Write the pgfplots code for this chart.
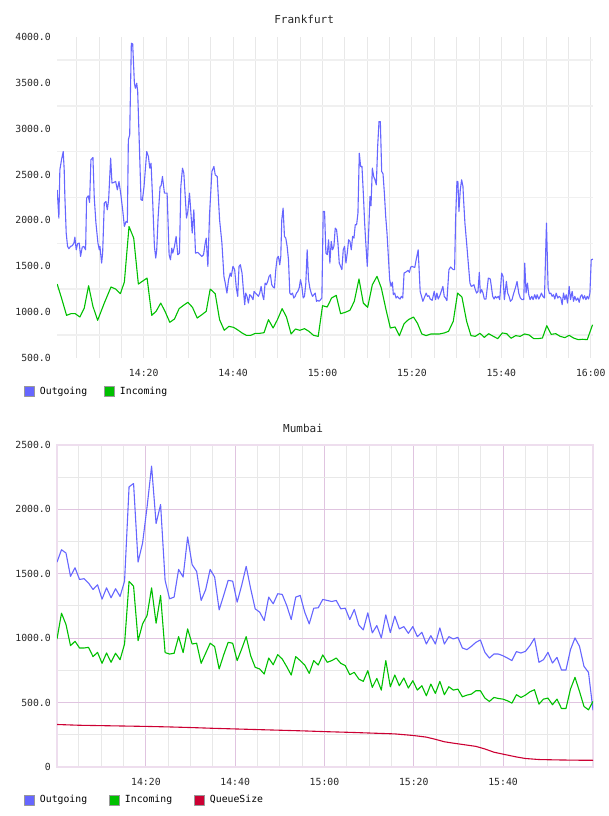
\documentclass[border=0pt]{standalone}
\usepackage{fontspec}
\setmainfont{DejaVu Sans Mono}
\usepackage{pgfplots}
\pgfplotsset{compat=1.18}
\usepackage{pgfplotstable}

\definecolor{outblue}{RGB}{102,102,255}
\definecolor{ingreen}{RGB}{0,192,0}
\definecolor{qred}{RGB}{204,0,51}
\definecolor{gridgray}{RGB}{232,232,232}
\definecolor{gridlight}{RGB}{240,240,240}
\definecolor{gridpurple}{RGB}{224,196,224}
\definecolor{framepink}{RGB}{238,222,238}
\definecolor{ticktext}{RGB}{40,40,40}

% Frankfurt, outgoing messages/s (minutes after 14:00)
\pgfplotstableread{
t v
0.64 2334
1.02 2025
1.24 2552
1.61 2661
1.99 2751
2.21 2552
2.36 2261
2.66 1862
2.96 1717
3.26 1691
3.63 1717
4.01 1724
4.38 1753
4.6 1818
4.9 1680
5.2 1746
5.58 1753
5.87 1608
6.25 1709
6.62 1717
7.0 1680
7.22 2243
7.59 2268
7.89 2196
8.19 2661
8.64 2686
8.94 2243
9.31 1971
9.76 1753
10.06 1680
10.21 1717
10.58 1535
10.81 1644
11.18 2189
11.55 2207
11.85 2116
12.15 2225
12.6 2679
12.9 2407
13.27 2414
13.72 2425
14.1 2334
14.47 2425
14.84 2298
15.29 2116
15.67 1934
16.04 1989
16.34 1978
16.56 2879
16.86 2933
17.23 3932
17.53 3925
17.91 3496
18.13 3441
18.43 3496
18.65 3405
19.4 2225
19.7 2218
20.07 2370
20.67 2751
21.05 2697
21.35 2570
21.64 2624
22.02 2189
22.39 1717
22.69 1590
22.91 1680
23.21 2025
23.66 2370
23.89 2377
24.19 2479
24.63 2298
25.23 2298
25.68 1626
25.98 1571
26.28 1698
26.5 1644
26.88 1717
27.25 1826
27.62 1626
28.0 1644
28.3 2370
28.67 2570
28.97 2516
29.57 2025
29.87 2098
30.24 2298
30.61 2043
30.84 1862
31.21 2116
31.58 1644
32.11 1651
32.63 1626
33.0 1608
33.38 1626
33.75 1753
33.98 1807
34.35 1499
34.72 2061
35.25 2534
35.7 2588
35.99 2497
36.44 2479
36.97 2007
37.49 1753
37.94 1390
38.24 1317
38.61 1208
38.98 1354
39.36 1426
39.58 1390
39.96 1499
40.34 1463
40.72 1263
41.02 1172
41.32 1499
41.61 1517
41.99 1426
42.29 1245
42.59 1081
42.81 1208
43.11 1172
43.41 1099
43.71 1190
44.08 1172
44.45 1136
44.68 1226
44.98 1208
45.35 1190
45.65 1172
45.95 1208
46.26 1281
46.55 1190
46.85 1136
47.15 1317
47.44 1299
47.74 1335
48.04 1390
48.34 1408
48.64 1299
48.94 1274
49.24 1263
49.54 1463
49.84 1590
50.13 1608
50.43 1517
50.66 1608
50.88 2007
51.18 2134
51.48 1826
51.78 1807
52.08 1717
52.38 1571
52.68 1208
52.97 1190
53.27 1208
53.57 1154
53.87 1172
54.17 1208
54.47 1226
54.77 1263
55.07 1354
55.37 1281
55.67 1154
55.96 1172
56.26 1317
56.56 1680
56.86 1354
57.16 1263
57.46 1208
57.76 1172
58.06 1190
58.36 1208
58.65 1118
58.95 1129
59.25 1118
59.55 1136
59.85 1154
60.15 2098
60.45 2098
60.75 1644
61.05 1626
61.35 1789
61.64 1535
61.94 1771
62.24 1680
62.54 1717
62.84 1916
63.14 1898
63.44 1753
63.74 1535
64.04 1499
64.33 1463
64.63 1680
64.93 1717
65.23 1535
65.53 1644
65.83 1789
66.13 1771
66.43 1680
66.73 1826
67.03 1807
67.32 1953
67.62 1953
67.92 2080
68.22 2733
68.52 2588
68.82 2588
69.12 2298
69.42 1971
69.72 1717
70.01 1499
70.31 1862
70.61 2261
70.84 2160
71.14 2570
71.44 2479
71.73 2443
72.03 2388
72.33 2806
72.63 3078
72.93 3078
73.23 2534
73.53 2508
73.83 2298
74.13 2043
74.42 1862
74.72 1608
75.02 1354
75.32 1281
75.62 1328
75.84 1190
76.14 1208
76.44 1154
76.74 1172
77.04 1154
77.34 1143
77.64 1172
77.94 1154
78.24 1426
78.54 1434
78.83 1444
79.13 1455
79.43 1434
79.73 1492
80.04 1499
80.34 1492
80.64 1488
80.94 1571
81.39 1680
81.84 1226
82.14 1172
82.44 1118
82.74 1154
83.18 1208
83.48 1172
83.78 1179
84.08 1143
84.53 1129
84.98 1226
85.28 1136
85.58 1208
85.87 1143
86.17 1172
86.55 1226
86.92 1281
87.22 1172
87.52 1154
87.82 1125
88.27 1463
88.64 1492
89.24 1463
89.54 1463
89.76 2007
90.06 2425
90.28 2425
90.51 2098
90.81 2334
91.11 2443
91.41 2370
91.55 2225
91.85 1971
92.23 1753
92.6 1535
92.97 1317
93.27 1281
93.57 1288
93.87 1299
94.17 1245
94.47 1208
94.77 1226
95.07 1434
95.29 1208
95.59 1245
95.89 1208
96.19 1143
96.56 1143
97.09 1372
97.53 1361
98.06 1172
98.36 1143
98.65 1172
98.95 1154
99.33 1172
99.63 1136
100.07 1426
100.37 1390
100.67 1136
101.12 1335
101.42 1208
101.72 1172
102.02 1118
102.39 1136
102.77 1208
103.14 1263
103.51 1335
103.89 1208
104.26 1154
104.63 1136
105.01 1136
105.23 1535
105.53 1208
105.83 1317
106.13 1190
106.43 1136
106.8 1172
107.1 1136
107.47 1190
107.77 1143
108.0 1190
108.37 1143
108.67 1172
108.97 1208
109.27 1172
109.64 1154
110.09 1971
110.46 1263
110.76 1201
111.06 1208
111.36 1172
111.66 1190
111.96 1143
112.26 1208
112.63 1154
112.93 1172
113.3 1154
113.6 1081
113.9 1208
114.2 1136
114.5 1190
114.8 1099
115.17 1281
115.47 1136
115.84 1226
116.14 1118
116.44 1172
116.74 1129
117.11 1154
117.41 1107
117.71 1172
118.01 1190
118.31 1143
118.61 1179
118.91 1136
119.21 1172
119.51 1143
119.81 1208
120.1 1571
120.48 1578
}\frankout

% Frankfurt, incoming messages/s
\pgfplotstableread{
t v
0.64 1306
1.61 1154
2.74 965
3.71 983
4.68 983
5.72 947
6.7 1045
7.67 1288
8.64 1063
9.69 911
11.18 1099
12.68 1274
13.72 1252
14.77 1201
15.67 1328
16.71 1934
17.76 1807
18.8 1306
20.75 1372
21.79 965
22.77 1009
23.81 1099
24.86 998
25.83 889
26.88 925
27.92 1038
28.89 1074
29.87 1107
30.91 1052
31.96 936
33.0 972
33.98 1009
34.87 1252
35.99 1201
36.97 918
38.01 802
39.06 845
40.1 834
40.94 809
41.99 773
42.96 747
43.93 747
44.98 769
45.95 769
46.92 776
47.9 918
48.94 827
49.91 918
50.96 1038
51.93 947
52.97 762
53.95 816
54.92 802
55.96 820
56.94 791
57.98 747
59.03 736
60.0 1070
61.05 1056
62.02 1154
63.06 1183
64.04 983
65.08 998
66.13 1020
67.1 1118
68.15 1361
69.12 1099
70.09 1052
71.14 1299
72.18 1390
73.15 1263
74.2 1027
75.17 827
76.22 838
77.19 743
78.24 874
79.21 918
80.34 947
81.24 878
82.21 762
83.18 744
84.23 762
85.2 762
86.17 762
87.22 773
88.19 791
89.24 900
90.21 1208
91.18 1165
92.23 900
93.2 744
94.17 736
95.22 769
96.19 725
97.16 765
98.21 736
99.18 711
100.22 773
101.2 765
102.17 715
103.21 744
104.19 736
105.23 762
106.2 751
107.25 711
108.22 711
109.19 718
110.16 852
111.14 758
112.18 765
113.15 736
114.2 722
115.17 747
116.14 718
117.19 700
118.16 704
119.21 700
120.4 863
}\frankin

% Mumbai, one sample per minute (i = sample number)
\pgfplotstableread{
i out in
0 1591 994
1 1687 1194
2 1661 1106
3 1480 942
4 1547 976
5 1456 924
6 1462 924
7 1428 929
8 1378 857
9 1415 890
10 1303 805
11 1391 885
12 1314 813
13 1384 883
14 1324 833
15 1443 955
16 2175 1441
17 2201 1404
18 1591 981
19 1739 1111
20 2020 1176
21 2336 1391
22 1890 1116
23 2038 1332
24 1449 888
25 1306 877
26 1319 883
27 1534 1012
28 1475 888
29 1786 1072
30 1571 955
31 1519 961
32 1293 805
33 1376 883
34 1534 961
35 1475 935
36 1220 761
37 1332 870
38 1449 968
39 1443 961
40 1280 826
41 1410 916
42 1558 1012
43 1384 864
44 1228 774
45 1202 761
46 1137 722
47 1319 846
48 1267 794
49 1345 872
50 1340 839
51 1254 779
52 1145 714
53 1319 857
54 1332 826
55 1202 792
56 1111 727
57 1233 826
58 1236 792
59 1301 870
60 1293 813
61 1285 826
62 1293 846
63 1228 805
64 1233 787
65 1145 717
66 1223 735
67 1103 683
68 1064 665
69 1197 748
70 1041 618
71 1098 688
72 1002 597
73 1181 826
74 1044 623
75 1171 714
76 1072 631
77 1090 691
78 1038 613
79 1090 670
80 1012 597
81 1046 631
82 955 553
83 1020 644
84 955 571
85 1080 665
86 955 561
87 1012 623
88 994 597
89 1007 605
90 924 545
91 911 558
92 937 566
93 968 592
94 986 592
95 890 535
96 846 509
97 877 540
98 877 532
99 864 527
100 846 514
101 826 496
102 896 561
103 885 540
104 898 558
105 942 584
106 999 600
107 813 488
108 833 527
109 890 535
110 807 483
111 851 527
112 753 454
113 753 454
114 911 605
115 1002 696
116 937 587
117 781 470
118 735 444
119 441 509
}\mumbai

% Mumbai, queue size
\pgfplotstableread{
i q
0 330
5 324
10 321
15 318
20 315
25 311
30 306
35 300
40 295
45 290
50 285
55 280
60 274
65 269
70 263
75 257
79 245
82 232
84 215
86 196
88 185
91 170
93 160
95 140
97 115
99 100
102 78
104 66
107 58
111 55
115 53
119 52
}\mumbaiq

\pgfplotsset{
  sqlegend/.style={legend image code/.code={%
      \draw[fill=#1, draw=black!40, line width=0.8pt] (0pt,-5pt) rectangle (10pt,5pt);}},
  monitor/.style={
    scale only axis, width=536pt,
    tick label style={font=\fontsize{9.8}{11}\selectfont, text=ticktext},
    major tick length=0pt, minor tick length=0pt,
    xticklabel style={anchor=center, yshift=-15pt},
    yticklabel style={anchor=east, inner xsep=0pt, xshift=-6pt},
    % the default title style lifts the title by 6pt; undo that lift
    title style={font=\fontsize{11}{13}\selectfont, text=black!85,
      anchor=center, yshift=-6pt},
    legend style={draw=none, fill=none, legend columns=-1, anchor=west,
      font=\fontsize{9.8}{11}\selectfont, inner sep=0pt,
      nodes={inner xsep=0pt, inner ysep=1pt},
      /tikz/every odd column/.append style={column sep=5pt}},
    every axis plot/.append style={line width=1.1pt, line join=round},
  }
}

\begin{document}
\begin{tikzpicture}
\path[use as bounding box] (0,0) rectangle (608pt,816pt);

\begin{axis}[monitor,
  at={(57pt,458pt)}, anchor=south west, height=321pt,
  xmin=0.6, xmax=120.5, ymin=500, ymax=4000,
  xtick={20,40,60,80,100,120},
  xticklabels={14:20,14:40,15:00,15:20,15:40,16:00},
  ytick={500,1000,1500,2000,2500,3000,3500,4000},
  yticklabels={500.0,1000.0,1500.0,2000.0,2500.0,3000.0,3500.0,4000.0},
  minor xtick={5,10,...,120},
  minor ytick={750,1250,...,3750},
  xminorgrids=true, yminorgrids=true,
  x grid style={gridgray, line width=1pt},
  y grid style={gridlight, line width=1.6pt},
  axis line style={draw=none},
  title={Frankfurt}, title style={at={(0.4610,1.0536)}},
  legend style={at={(-0.0616,-0.1044)},
    /tikz/every even column/.append style={column sep=17pt}},
]
\addplot[outblue, forget plot] table[x=t, y=v] {\frankout};
\addplot[ingreen, forget plot] table[x=t, y=v] {\frankin};
\addlegendimage{sqlegend=outblue}
\addlegendentry{Outgoing}
\addlegendimage{sqlegend=ingreen}
\addlegendentry{Incoming}
\end{axis}

\begin{axis}[monitor,
  at={(57pt,49pt)}, anchor=south west, height=322pt,
  xmin=0, xmax=119, ymin=0, ymax=2500,
  % 14:20 ... 15:40 in sample numbers
  xtick={19.74,39.56,59.38,79.21,99.03},
  xticklabels={14:20,14:40,15:00,15:20,15:40},
  ytick={0,500,1000,1500,2000,2500},
  yticklabels={0,500.0,1000.0,1500.0,2000.0,2500.0},
  minor xtick={4.88,9.83,14.79,24.70,29.65,34.61,44.52,49.47,54.43,64.34,69.30,74.25,84.16,89.12,94.07,103.98,108.94,113.89,118.85},
  minor ytick={250,750,...,2250},
  grid=both,
  major grid style={gridpurple, line width=1pt},
  minor grid style={gridgray, line width=1pt},
  axis line style={framepink, line width=1.5pt},
  title={Mumbai}, title style={at={(0.4590,1.0512)}},
  legend style={at={(-0.0616,-0.1025)},
    /tikz/every even column/.append style={column sep=22pt}},
]
\addplot[outblue, forget plot] table[x=i, y=out] {\mumbai};
\addplot[ingreen, forget plot] table[x=i, y=in] {\mumbai};
\addplot[qred, forget plot] table[x=i, y=q] {\mumbaiq};
\addlegendimage{sqlegend=outblue}
\addlegendentry{Outgoing}
\addlegendimage{sqlegend=ingreen}
\addlegendentry{Incoming}
\addlegendimage{sqlegend=qred}
\addlegendentry{QueueSize}
\end{axis}
\end{tikzpicture}
\end{document}
